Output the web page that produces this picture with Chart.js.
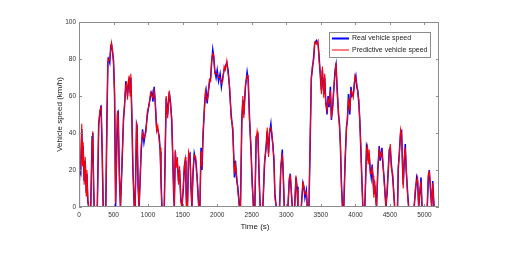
<!DOCTYPE html>
<html>
<head>
<meta charset="utf-8">
<script src="https://cdn.jsdelivr.net/npm/chart.js@4.4.0/dist/chart.umd.min.js"></script>
<style>
  html, body { margin: 0; padding: 0; background: #fff; }
  canvas { display: block; }
</style>
</head>
<body>
<canvas id="speedChart" width="518" height="255"></canvas>
<script>
// time stamps (s)
const timeSec = [
  0, 5, 25, 40, 50, 60, 75, 90, 105, 115,
  128, 140, 170, 190, 200, 212, 220, 265, 285, 300,
  320, 335, 350, 388, 405, 418, 430, 445, 460, 470,
  485, 500, 515, 530, 545, 557, 567, 585, 600, 620,
  644, 660, 678, 690, 702, 715, 726, 740, 750, 765,
  780, 800, 813, 833, 840, 855, 870, 881, 900, 920,
  940, 968, 990, 1016, 1035, 1055, 1070, 1088, 1105, 1123,
  1140, 1161, 1175, 1186, 1200, 1234, 1248, 1262, 1283, 1306,
  1326, 1341, 1356, 1370, 1379, 1394, 1405, 1422, 1440, 1455,
  1474, 1490, 1510, 1524, 1538, 1548, 1557, 1570, 1586, 1606,
  1620, 1634, 1650, 1668, 1690, 1700, 1710, 1733, 1750, 1766,
  1780, 1795, 1815, 1830, 1839, 1855, 1870, 1887, 1905, 1920,
  1936, 1950, 1965, 1984, 2000, 2020, 2042, 2061, 2080, 2100,
  2119, 2139, 2158, 2177, 2202, 2226, 2240, 2250, 2264, 2284,
  2298, 2322, 2337, 2356, 2371, 2385, 2409, 2433, 2448, 2467,
  2491, 2506, 2525, 2545, 2564, 2578, 2589, 2600, 2610, 2622,
  2661, 2685, 2710, 2724, 2743, 2758, 2777, 2792, 2806, 2821,
  2835, 2855, 2903, 2920, 2942, 2955, 2971, 3024, 3043, 3058,
  3072, 3087, 3121, 3140, 3155, 3169, 3217, 3241, 3255, 3270,
  3290, 3304, 3328, 3347, 3362, 3376, 3396, 3410, 3435, 3460,
  3475, 3494, 3508, 3522, 3542, 3556, 3570, 3590, 3605, 3619,
  3638, 3653, 3670, 3687, 3706, 3720, 3735, 3755, 3770, 3784,
  3798, 3813, 3832, 3850, 3870, 3885, 3900, 3919, 3935, 3950,
  3970, 3992, 4006, 4020, 4035, 4050, 4064, 4078, 4093, 4108,
  4137, 4161, 4175, 4185, 4199, 4215, 4229, 4243, 4255, 4267,
  4280, 4295, 4306, 4325, 4345, 4360, 4384, 4400, 4415, 4442,
  4460, 4490, 4505, 4520, 4540, 4568, 4610, 4620, 4635, 4654,
  4669, 4682, 4692, 4708, 4722, 4735, 4757, 4771, 4850, 4870,
  4887, 4900, 4916, 4935, 4950, 4964, 5040, 5056, 5070, 5085,
  5104, 5119, 5138, 5150
];

// real vehicle speed (km/h)
const realKmh = [
  0, 20, 18, 42, 26, 33, 14, 25, 8, 18,
  3, 0, 0, 38, 40, 10, 0, 0, 45, 50,
  55, 30, 0, 0, 50, 78, 80, 78, 87, 88,
  84, 79, 60, 0, 30, 50, 51, 15, 0, 20,
  48, 55, 68, 65, 60, 66, 70, 62, 70, 50,
  20, 0, 0, 45, 44, 11, 0, 0, 30, 42,
  35, 42, 50, 56, 60, 62, 57, 65, 55, 43,
  42, 38, 30, 16, 0, 0, 30, 59, 50, 62,
  56, 47, 29, 7, 0, 30, 23, 25, 14, 20,
  4, 0, 10, 22, 25, 12, 0, 0, 28, 29,
  11, 0, 18, 29, 25, 21, 15, 0, 0, 32,
  20, 38, 54, 61, 63, 56, 62, 67, 70, 78,
  85, 81, 74, 70, 74, 68, 72, 65, 70, 74,
  76, 78, 74, 65, 50, 41, 27, 16, 25, 14,
  11, 0, 0, 47, 58, 50, 65, 73, 69, 49,
  29, 14, 0, 0, 38, 39, 40, 25, 13, 0,
  0, 23, 34, 41, 29, 40, 45, 38, 34, 25,
  7, 0, 0, 20, 31, 18, 0, 0, 14, 18,
  8, 0, 0, 16, 11, 0, 0, 13, 11, 5,
  9, 0, 0, 38, 70, 74, 81, 88, 90, 88,
  81, 70, 63, 74, 61, 70, 58, 50, 60, 54,
  65, 47, 54, 63, 74, 77, 65, 50, 45, 32,
  13, 0, 0, 23, 43, 47, 61, 50, 65, 60,
  61, 69, 71, 65, 63, 56, 47, 32, 16, 0,
  0, 33, 31, 25, 29, 20, 16, 23, 15, 7,
  12, 5, 0, 20, 33, 25, 32, 22, 16, 0,
  8, 31, 32, 23, 16, 0, 0, 20, 29, 40,
  41, 22, 12, 25, 34, 20, 7, 0, 0, 9,
  16, 14, 0, 8, 16, 0, 0, 16, 20, 10,
  0, 14, 0, 0
];

// predictive vehicle speed (km/h)
const predKmh = [
  0, 12, 26, 45, 22, 35, 12, 27, 6, 20,
  4, 0, 0, 36, 41, 12, 0, 0, 43, 52,
  54, 33, 0, 0, 47, 80, 79, 80, 86, 89,
  85, 77, 62, 2, 28, 52, 49, 17, 0, 22,
  46, 57, 66, 67, 58, 68, 71, 60, 72, 48,
  22, 0, 0, 46, 42, 13, 0, 0, 33, 40,
  37, 40, 52, 55, 62, 60, 59, 63, 57, 41,
  44, 36, 32, 14, 0, 0, 32, 60, 48, 63,
  54, 49, 27, 9, 0, 31, 21, 27, 12, 22,
  3, 0, 12, 20, 27, 10, 0, 0, 30, 27,
  13, 0, 20, 28, 27, 19, 17, 0, 0, 30,
  22, 40, 52, 63, 61, 58, 60, 69, 68, 80,
  83, 82, 72, 72, 72, 70, 70, 67, 68, 76,
  74, 79, 72, 67, 48, 43, 25, 18, 23, 16,
  9, 0, 0, 45, 60, 48, 66, 71, 71, 47,
  31, 12, 0, 0, 36, 41, 38, 27, 11, 0,
  0, 25, 32, 43, 27, 42, 43, 40, 32, 27,
  5, 0, 0, 22, 29, 20, 0, 0, 16, 17,
  10, 0, 0, 17, 9, 0, 0, 14, 10, 7,
  8, 0, 0, 40, 68, 76, 79, 89, 88, 90,
  79, 72, 61, 76, 59, 72, 56, 52, 58, 56,
  63, 49, 52, 65, 72, 78, 63, 52, 43, 34,
  11, 0, 0, 25, 41, 49, 59, 52, 63, 62,
  59, 71, 69, 67, 61, 58, 45, 34, 14, 0,
  0, 31, 33, 23, 31, 18, 18, 21, 17, 5,
  14, 3, 0, 22, 31, 27, 30, 24, 14, 0,
  10, 29, 34, 21, 18, 0, 0, 22, 27, 42,
  39, 24, 10, 27, 32, 22, 5, 0, 0, 11,
  14, 16, 0, 10, 14, 0, 0, 18, 19, 12,
  0, 13, 0, 0
];

const xTicks = [0, 500, 1000, 1500, 2000, 2500, 3000, 3500, 4000, 4500, 5000];
const yTicks = [0, 20, 40, 60, 80, 100];
const seriesNames = ['Real vehicle speed', 'Predictive vehicle speed'];
const seriesColors = ['#0000ff', '#ff0000'];

const tickFont = { family: 'Liberation Sans', size: 6.5 };

// box, inward ticks, axis titles and legend drawn matlab-style
const matlabFrame = {
  id: 'matlabFrame',
  afterDatasetsDraw(chart) {
    const c = chart.ctx;
    const a = chart.chartArea;
    const xs = chart.scales.x, ys = chart.scales.y;
    c.save();
    c.strokeStyle = '#8c8c8c';
    c.lineWidth = 1;
    c.strokeRect(a.left + 0.5, a.top + 0.5, a.right - a.left - 1, a.bottom - a.top - 1);
    c.beginPath();
    xTicks.forEach(v => {
      const px = Math.round(xs.getPixelForValue(v)) + 0.5;
      c.moveTo(px, a.bottom); c.lineTo(px, a.bottom - 3);
      c.moveTo(px, a.top); c.lineTo(px, a.top + 3);
    });
    yTicks.forEach(v => {
      const py = Math.round(ys.getPixelForValue(v)) + 0.5;
      c.moveTo(a.left, py); c.lineTo(a.left + 3, py);
      c.moveTo(a.right, py); c.lineTo(a.right - 3, py);
    });
    c.stroke();
    c.restore();
  },
  afterDraw(chart) {
    const c = chart.ctx;
    const a = chart.chartArea;
    c.save();
    c.fillStyle = '#222';
    c.font = '8px "Liberation Sans"';
    c.textAlign = 'center';
    c.textBaseline = 'middle';
    c.fillText('Time (s)', (a.left + a.right) / 2 - 4, 227);
    c.translate(60, (a.top + a.bottom) / 2);
    c.rotate(-Math.PI / 2);
    c.fillText('Vehicle speed (km/h)', 0, 0);
    c.restore();

    // legend box
    c.save();
    const lx = 329, ly = 32, lw = 101, lh = 25;
    c.fillStyle = '#fff';
    c.fillRect(lx, ly, lw, lh);
    c.strokeStyle = '#8c8c8c';
    c.lineWidth = 1;
    c.strokeRect(lx + 0.5, ly + 0.5, lw, lh);
    c.font = '7px "Liberation Sans"';
    c.textBaseline = 'middle';
    c.textAlign = 'left';
    seriesNames.forEach((name, i) => {
      const y = ly + 6.5 + i * 11.5;
      c.strokeStyle = seriesColors[i];
      c.lineWidth = i === 0 ? 2 : 1;
      c.beginPath();
      c.moveTo(lx + 3, y); c.lineTo(lx + 20, y);
      c.stroke();
      c.fillStyle = '#222';
      c.fillText(name, lx + 23, y);
    });
    c.restore();
  }
};

const ctx = document.getElementById('speedChart').getContext('2d');

const chart = new Chart(ctx, {
  type: 'line',
  data: {
    datasets: [
      {
        label: seriesNames[0],
        data: timeSec.map((t, i) => ({ x: t, y: realKmh[i] })),
        borderColor: seriesColors[0],
        borderWidth: 1.5,
        pointRadius: 0,
        tension: 0,
        order: 2
      },
      {
        label: seriesNames[1],
        data: timeSec.map((t, i) => ({ x: t, y: predKmh[i] })),
        borderColor: seriesColors[1],
        borderWidth: 1.1,
        pointRadius: 0,
        tension: 0,
        order: 1
      }
    ]
  },
  options: {
    responsive: false,
    animation: false,
    layout: { padding: { left: 0, top: 22, right: 79, bottom: 0 } },
    plugins: { legend: { display: false }, tooltip: { enabled: false } },
    scales: {
      x: {
        type: 'linear',
        min: 0,
        max: 5210,
        afterBuildTicks: s => { s.ticks = xTicks.map(v => ({ value: v })); },
        afterFit: s => { s.height = 48; },
        grid: { display: false, drawTicks: false },
        border: { display: false },
        ticks: { font: tickFont, color: '#333', padding: 4, maxRotation: 0, autoSkip: false, callback: v => String(v) }
      },
      y: {
        min: 0,
        max: 100,
        afterBuildTicks: s => { s.ticks = yTicks.map(v => ({ value: v })); },
        afterFit: s => { s.width = 79; },
        grid: { display: false, drawTicks: false },
        border: { display: false },
        ticks: { font: tickFont, color: '#333', padding: 3, callback: v => String(v) }
      }
    }
  },
  plugins: [matlabFrame]
});
</script>
</body>
</html>
